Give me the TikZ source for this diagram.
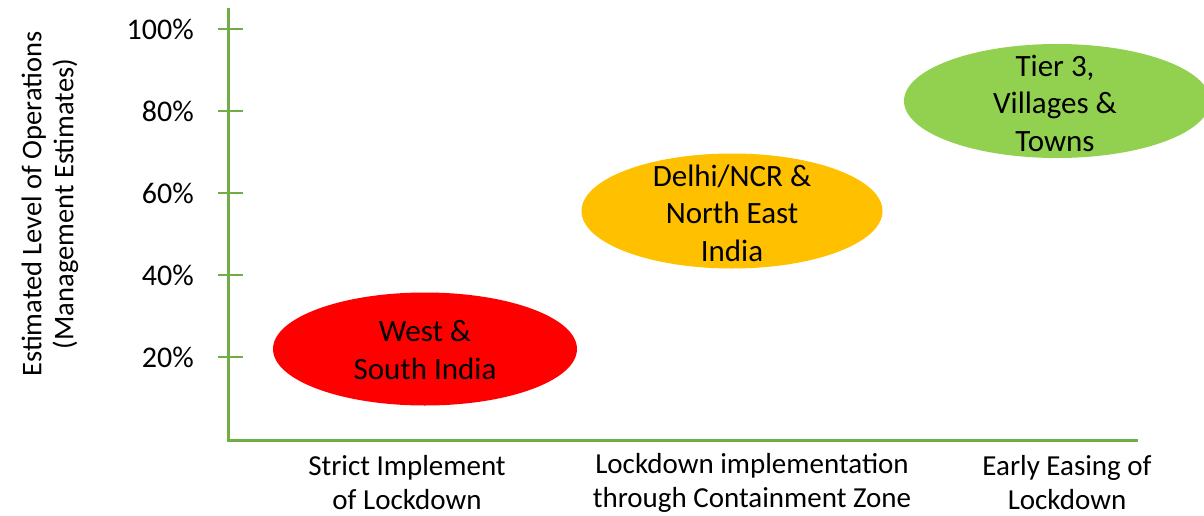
\documentclass[tikz,border=0pt]{standalone}
\usepackage{fontspec}
\setmainfont{Carlito}
\usetikzlibrary{shapes.geometric}
\definecolor{axisgreen}{HTML}{70AD47}
\definecolor{zonered}{HTML}{FF0000}
\definecolor{zoneorange}{HTML}{FFC000}
\definecolor{zonegreen}{HTML}{92D050}
\tikzset{
  axisline/.style={axisgreen, line width=3pt},
  tickline/.style={axisgreen, line width=2pt},
  ticklabel/.style={anchor=east, inner sep=0pt, font=\fontsize{30}{36}\selectfont},
  catlabel/.style={align=center, inner sep=0pt, font=\fontsize{29}{34}\selectfont},
  zone/.style={ellipse, draw=none, inner sep=0pt},
  zonetext/.style={align=center, inner sep=0pt, font=\fontsize{31}{37.5}\selectfont},
}
\begin{document}
\begin{tikzpicture}[x=1pt, y=-1pt]
  \useasboundingbox (0,0) rectangle (1204,516);

  % regional zones
  \node[zone, fill=zonered, minimum width=304pt, minimum height=113pt] (west) at (425,349) {};
  \node[zonetext] (westtxt) at (425,350) {West \&\\South India};

  \node[zone, fill=zoneorange, minimum width=301pt, minimum height=115pt] (delhi) at (732,211) {};
  \node[zonetext] (delhitxt) at (732,213) {Delhi/NCR \&\\North East\\India};

  \node[zone, fill=zonegreen, minimum width=306pt, minimum height=114pt] (tier) at (1057,101) {};
  \node[zonetext] (tiertxt) at (1055,103) {Tier 3,\\Villages \&\\Towns};

  % axes
  \coordinate (origin) at (228,440);
  \coordinate (ytop) at (228,8);
  \coordinate (xend) at (1138,440);
  \draw[axisline] (ytop) -- (origin) -- (xend);

  % ticks and percentage labels
  \foreach \v/\y in {100/29, 80/111, 60/193, 40/275, 20/357} {
    \coordinate (tl\v) at (218,\y);
    \coordinate (tr\v) at (243,\y);
    \draw[tickline] (tl\v) -- (tr\v);
    \node[ticklabel] (lab\v) at (194,\y) {\v\%};
  }

  % y-axis title
  \node[rotate=90, align=center, inner sep=0pt, font=\fontsize{28.5}{32}\selectfont]
    (ytitle) at (50,204) {Estimated Level of Operations\\(Management Estimates)};

  % category labels
  \node[catlabel] (cat1) at (407,483) {Strict Implement\\of Lockdown};
  \node[catlabel] (cat2) at (752,483) {Lockdown implementation\\through Containment Zone};
  \node[catlabel] (cat3) at (1067,483) {Early Easing of\\Lockdown};
\end{tikzpicture}
\end{document}
